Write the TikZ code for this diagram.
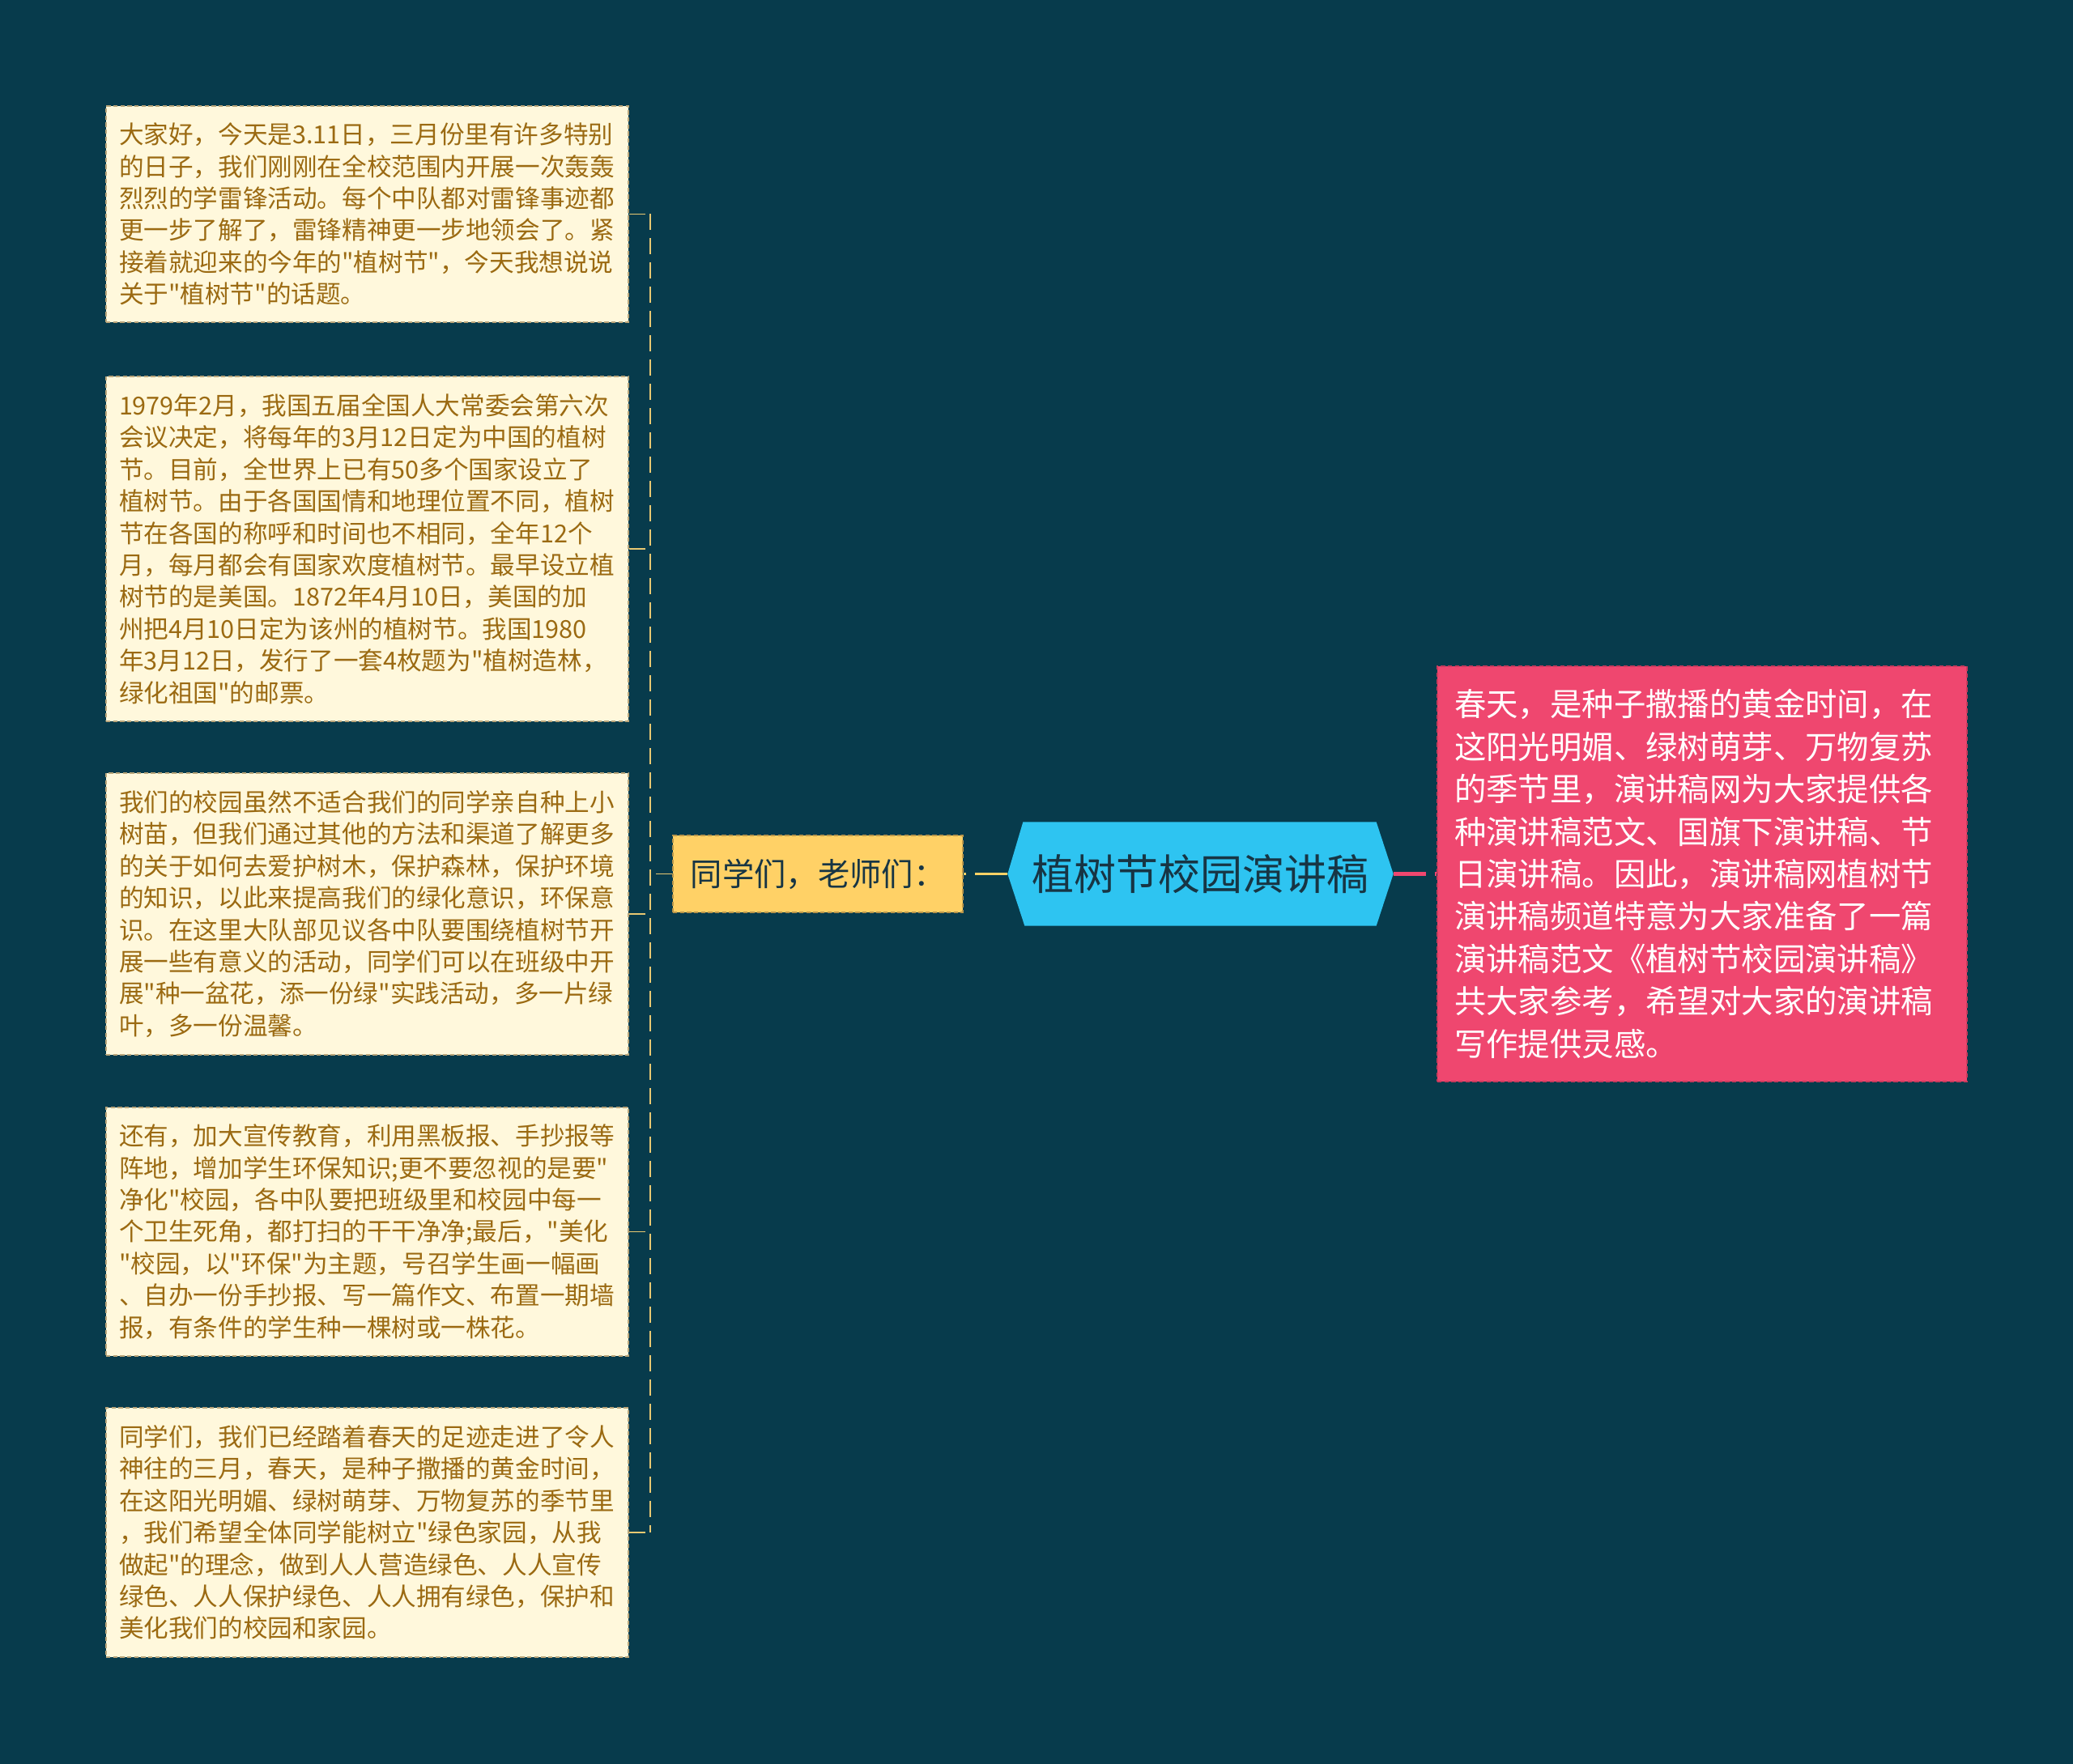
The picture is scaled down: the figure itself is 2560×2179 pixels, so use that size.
\documentclass[tikz,border=0pt]{standalone}
\usepackage{fontspec}
\newfontfamily\cjkf{Noto Sans CJK SC}
\usetikzlibrary{calc}
\definecolor{bg}{HTML}{073B4C}
\definecolor{cream}{HTML}{FFF8DC}
\definecolor{creamtext}{HTML}{9B6A12}
\definecolor{creamborder}{HTML}{B9A57A}
\definecolor{ylw}{HTML}{FFD166}
\definecolor{ylwborder}{HTML}{B8954A}
\definecolor{brk}{HTML}{E8C872}
\definecolor{pinkc}{HTML}{EF476F}
\definecolor{pinkborder}{HTML}{C93A5C}
\definecolor{cyanc}{HTML}{2EC4F1}
\definecolor{darktext}{HTML}{173544}
\begin{document}
\begin{tikzpicture}[x=0.3pt,y=-0.3pt,
  leaf/.style={draw=creamborder, dash pattern=on 1.6pt off 1pt, line width=0.4pt,
    fill=cream, text=creamtext, font=\cjkf\fontsize{9.18pt}{11.82pt}\selectfont,
    text width=183.9pt, inner xsep=4.8pt, inner ysep=0pt, align=left,
    minimum width=193.5pt},
  pinkbox/.style={draw=pinkborder, dash pattern=on 1.6pt off 1pt, line width=0.5pt,
    fill=pinkc, text=white, font=\cjkf\fontsize{11.82pt}{15.72pt}\selectfont,
    text width=183.6pt, inner xsep=6.3pt, inner ysep=0pt, align=left,
    minimum width=196.2pt, minimum height=153.9pt},
  ylwbox/.style={draw=ylwborder, dash pattern=on 1.6pt off 1pt, line width=0.5pt,
    fill=ylw, text=darktext, font=\cjkf\fontsize{11.8pt}{13pt}\selectfont,
    minimum width=107.4pt, minimum height=28.5pt, inner sep=0pt},
  rootbox/.style={text=darktext, font=\cjkf\fontsize{15.6pt}{18pt}\selectfont,
    minimum width=142.5pt, minimum height=38.1pt, inner sep=0pt},
  brkline/.style={brk, line width=0.55pt, dash pattern=on 6pt off 3pt},
  mainline/.style={line width=1.1pt, dash pattern=on 12pt off 3.3pt}
]
\useasboundingbox (0,0) rectangle (2560,2179);
\fill[bg] (0,0) rectangle (2560,2179);

% root
\node[rootbox] (root) at (1482.5,1079.5) {};
\fill[cyanc] (root.west) -- ($(root.north west)+(19,0)$) -- ($(root.north east)+(-21,0)$)
  -- (root.east) -- ($(root.south east)+(-21,0)$) -- ($(root.south west)+(21,0)$) -- cycle;
\node[rootbox] at (root.center) {植树节校园演讲稿};

% children
\node[ylwbox] (yl) at (1010,1079.5) {同学们，老师们：};
\node[pinkbox] (pk) at (2102,1079.5) {春天，是种子撒播的黄金时间，在\\
这阳光明媚、绿树萌芽、万物复苏\\
的季节里，演讲稿网为大家提供各\\
种演讲稿范文、国旗下演讲稿、节\\
日演讲稿。因此，演讲稿网植树节\\
演讲稿频道特意为大家准备了一篇\\
演讲稿范文《植树节校园演讲稿》\\
共大家参考，希望对大家的演讲稿\\
写作提供灵感。};

% leaves
\node[leaf, minimum height=80.1pt] (b1) at (453.5,264.5) {大家好，今天是3.11日，三月份里有许多特别\\
的日子，我们刚刚在全校范围内开展一次轰轰\\
烈烈的学雷锋活动。每个中队都对雷锋事迹都\\
更一步了解了，雷锋精神更一步地领会了。紧\\
接着就迎来的今年的"植树节"，今天我想说说\\
关于"植树节"的话题。};
\node[leaf, minimum height=127.8pt] (b2) at (453.5,678) {1979年2月，我国五届全国人大常委会第六次\\
会议决定，将每年的3月12日定为中国的植树\\
节。目前，全世界上已有50多个国家设立了\\
植树节。由于各国国情和地理位置不同，植树\\
节在各国的称呼和时间也不相同，全年12个\\
月，每月都会有国家欢度植树节。最早设立植\\
树节的是美国。1872年4月10日，美国的加\\
州把4月10日定为该州的植树节。我国1980\\
年3月12日，发行了一套4枚题为"植树造林，\\
绿化祖国"的邮票。};
\node[leaf, minimum height=104.4pt] (b3) at (453.5,1129) {我们的校园虽然不适合我们的同学亲自种上小\\
树苗，但我们通过其他的方法和渠道了解更多\\
的关于如何去爱护树木，保护森林，保护环境\\
的知识，以此来提高我们的绿化意识，环保意\\
识。在这里大队部见议各中队要围绕植树节开\\
展一些有意义的活动，同学们可以在班级中开\\
展"种一盆花，添一份绿"实践活动，多一片绿\\
叶，多一份温馨。};
\node[leaf, minimum height=92.1pt] (b4) at (453.5,1521.5) {还有，加大宣传教育，利用黑板报、手抄报等\\
阵地，增加学生环保知识;更不要忽视的是要"\\
净化"校园，各中队要把班级里和校园中每一\\
个卫生死角，都打扫的干干净净;最后，"美化\\
"校园，以"环保"为主题，号召学生画一幅画\\
、自办一份手抄报、写一篇作文、布置一期墙\\
报，有条件的学生种一棵树或一株花。};
\node[leaf, minimum height=92.4pt] (b5) at (453.5,1893) {同学们，我们已经踏着春天的足迹走进了令人\\
神往的三月，春天，是种子撒播的黄金时间，\\
在这阳光明媚、绿树萌芽、万物复苏的季节里\\
，我们希望全体同学能树立"绿色家园，从我\\
做起"的理念，做到人人营造绿色、人人宣传\\
绿色、人人保护绿色、人人拥有绿色，保护和\\
美化我们的校园和家园。};

% connectors
\draw[mainline, ylw] (root.west) -- (yl.east);
\draw[mainline, pinkc, line width=1.4pt] (root.east) -- (pk.west);
\coordinate (spine) at (803,1079.5);
\draw[brkline] (yl.west) -- (spine);
\draw[brkline] (b1.east -| spine) -- (b5.east -| spine);
\foreach \b in {b1,b2,b3,b4,b5} \draw[brkline] (\b.east) -- (\b.east -| spine);
\end{tikzpicture}
\end{document}
